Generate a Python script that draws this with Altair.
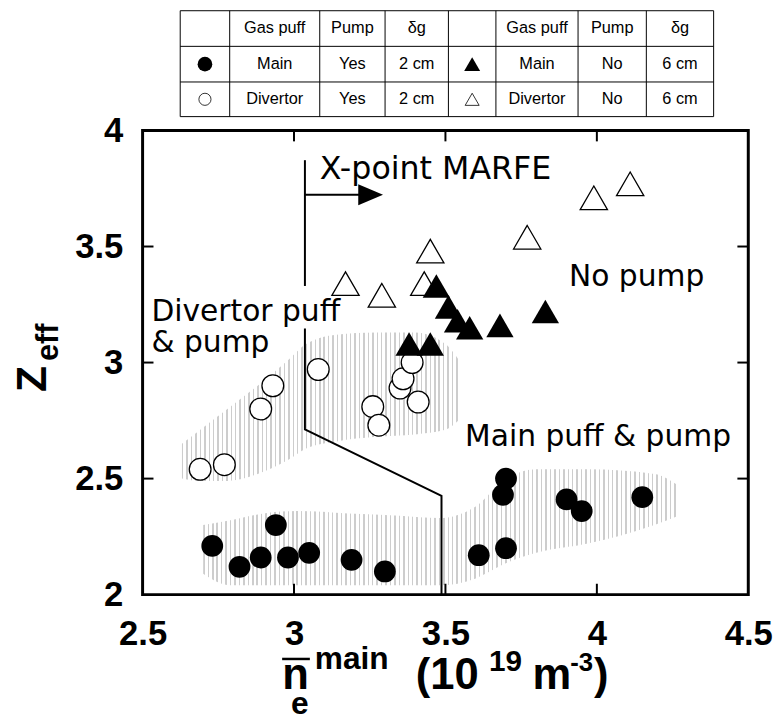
import altair as alt
import pandas as pd

# ---------------- data ----------------
# Main gas puff, pump (filled circles)
main_pump_x = [2.73, 2.82, 2.89, 2.94, 2.98, 3.05, 3.19, 3.30, 3.61, 3.70, 3.70, 3.69, 3.90, 3.95, 4.15]
main_pump_y = [2.21, 2.12, 2.16, 2.30, 2.16, 2.18, 2.15, 2.10, 2.17, 2.20, 2.50, 2.43, 2.41, 2.36, 2.42]
# Divertor gas puff, pump (open circles)
div_pump_x = [2.69, 2.77, 2.89, 2.93, 3.08, 3.26, 3.28, 3.35, 3.36, 3.39, 3.41]
div_pump_y = [2.54, 2.56, 2.80, 2.90, 2.97, 2.81, 2.73, 2.89, 2.93, 3.00, 2.83]
# Main gas puff, no pump (filled triangles)
main_nopump_x = [3.38, 3.45, 3.47, 3.51, 3.54, 3.58, 3.68, 3.83]
main_nopump_y = [3.08, 3.08, 3.33, 3.24, 3.18, 3.15, 3.16, 3.22]
# Divertor gas puff, no pump (open triangles)
div_nopump_x = [3.17, 3.29, 3.43, 3.45, 3.77, 3.99, 4.11]
div_nopump_y = [3.34, 3.29, 3.34, 3.48, 3.54, 3.71, 3.77]

# shaded regions (lower / upper edge at each x)
div_band_x = [2.63, 2.68, 2.78, 2.88, 2.98, 3.04, 3.14, 3.27, 3.40, 3.50, 3.55]
div_band_lo = [2.50, 2.49, 2.49, 2.52, 2.58, 2.63, 2.66, 2.68, 2.69, 2.71, 2.76]
div_band_hi = [2.65, 2.70, 2.80, 2.90, 3.01, 3.08, 3.12, 3.13, 3.13, 3.08, 3.00]
main_band_x = [2.70, 2.79, 2.90, 3.01, 3.18, 3.35, 3.48, 3.60, 3.69, 3.80, 3.97, 4.19, 4.27]
main_band_lo = [2.09, 2.04, 2.04, 2.04, 2.04, 2.04, 2.04, 2.07, 2.13, 2.18, 2.22, 2.30, 2.34]
main_band_hi = [2.30, 2.32, 2.35, 2.36, 2.35, 2.34, 2.33, 2.38, 2.49, 2.54, 2.54, 2.52, 2.47]

# X-point MARFE boundary line
marfe_x = [3.036, 3.036, 3.036, 3.036, 3.487, 3.487]
marfe_y = [3.872, 3.330, 3.147, 2.712, 2.426, 2.0]
marfe_seg = [0, 0, 1, 1, 1, 1]
arrow_x = [3.036, 3.225]
arrow_y = [3.723, 3.723]
arrow_head_x = [3.253]
arrow_head_y = [3.723]

x_labels = [2.5, 3, 3.5, 4, 4.5]
y_labels = [2, 2.5, 3, 3.5, 4]
x_inner_ticks = [3, 3.5, 4]
y_inner_ticks = [2.5, 3, 3.5]

table_header = ["", "Gas puff", "Pump", "δg", "", "Gas puff", "Pump", "δg"]
table_row1 = ["", "Main", "Yes", "2 cm", "", "Main", "No", "6 cm"]
table_row2 = ["", "Divertor", "Yes", "2 cm", "", "Divertor", "No", "6 cm"]

# ---------------- layout ----------------
W, H = 612, 469
FONT = "Liberation Sans"
ANN = "DejaVu Sans"
xs = alt.Scale(domain=[2.5, 4.5], nice=False, zero=False)
ys = alt.Scale(domain=[2, 4], nice=False, zero=False)

xaxis = alt.Axis(values=x_labels, format="~g", title=None, domain=False, ticks=False,
                 tickSize=0, grid=False, labelFont=FONT, labelFontWeight="bold",
                 labelFontSize=35, labelColor="black", labelPadding=22,
                 labelFlush=False, labelOverlap=False)
yaxis = alt.Axis(values=y_labels, format="~g", title=None, domain=False, ticks=False,
                 tickSize=0, grid=False, labelFont=FONT, labelFontWeight="bold",
                 labelFontSize=35, labelColor="black", labelPadding=20,
                 labelOverlap=False)


def XE(f="x"):
    return alt.X(f"{f}:Q", scale=xs, axis=xaxis)


def YE(f="y"):
    return alt.Y(f"{f}:Q", scale=ys, axis=yaxis)


def pts(xv, yv):
    return pd.DataFrame({"x": xv, "y": yv})


dummy = pd.DataFrame({"d": [0]})


def ptext(text, px, py, size, weight="bold", font=FONT, align="left",
          baseline="alphabetic", angle=0):
    return alt.Chart(dummy).mark_text(
        text=text, fontSize=size, fontWeight=weight, font=font, align=align,
        baseline=baseline, angle=angle, color="black"
    ).encode(x=alt.value(px), y=alt.value(py))


def prule(x1, x2, y1, y2, w=1):
    return alt.Chart(dummy).mark_rule(color="black", strokeWidth=w).encode(
        x=alt.value(x1), x2=alt.value(x2), y=alt.value(y1), y2=alt.value(y2))


def dtext(text, dx, dy, size=30):
    return alt.Chart(pd.DataFrame({"x": [dx], "y": [dy]})).mark_text(
        text=text, fontSize=size, font=ANN, align="left", baseline="alphabetic",
        color="black"
    ).encode(x=XE(), y=YE())


def stripes(width_px, period=4.5, duty=0.33, ink="#cdcdcd", paper="#ffffff"):
    # vertical stipple-like stripes as a horizontal hard-stop gradient
    n = max(1, int(round(width_px / period)))
    stops = []
    for i in range(n):
        a = i / n
        b = (i + duty) / n
        c = (i + 1) / n
        stops += [alt.GradientStop(color=ink, offset=a),
                  alt.GradientStop(color=ink, offset=b),
                  alt.GradientStop(color=paper, offset=b),
                  alt.GradientStop(color=paper, offset=c)]
    return alt.Gradient(gradient="linear", stops=stops, x1=0, x2=1, y1=0, y2=0)


layers = []

# shaded regions
for bx, lo, hi in [(div_band_x, div_band_lo, div_band_hi),
                   (main_band_x, main_band_lo, main_band_hi)]:
    df = pd.DataFrame({"x": bx, "lo": lo, "hi": hi})
    wpx = (max(bx) - min(bx)) / 2.0 * W
    layers.append(alt.Chart(df).mark_area(fill=stripes(wpx), opacity=1,
                                          interpolate="monotone")
                  .encode(x=XE(), y=YE("lo"), y2="hi:Q"))

# MARFE line + arrow
mdf = pd.DataFrame({"x": marfe_x, "y": marfe_y, "seg": marfe_seg,
                    "o": list(range(len(marfe_x)))})
layers.append(alt.Chart(mdf).mark_line(color="black", strokeWidth=2)
              .encode(x=XE(), y=YE(), detail="seg:N", order="o:Q"))
layers.append(alt.Chart(pts(arrow_x, arrow_y)).mark_line(color="black", strokeWidth=2)
              .encode(x=XE(), y=YE()))
layers.append(alt.Chart(pts(arrow_head_x, arrow_head_y))
              .mark_point(shape="M-1,-0.85L1,0L-1,0.85Z", size=625,
                          filled=True, color="black", opacity=1)
              .encode(x=XE(), y=YE()))

# inward ticks on all four sides
tx = pd.DataFrame({"v": x_inner_ticks})
ty = pd.DataFrame({"v": y_inner_ticks})
layers.append(alt.Chart(tx).mark_rule(color="black", strokeWidth=2)
              .encode(x=XE("v"), y=alt.value(H), y2=alt.value(H - 11)))
layers.append(alt.Chart(tx).mark_rule(color="black", strokeWidth=2)
              .encode(x=XE("v"), y=alt.value(0), y2=alt.value(11)))
layers.append(alt.Chart(ty).mark_rule(color="black", strokeWidth=2)
              .encode(y=YE("v"), x=alt.value(0), x2=alt.value(11)))
layers.append(alt.Chart(ty).mark_rule(color="black", strokeWidth=2)
              .encode(y=YE("v"), x=alt.value(W), x2=alt.value(W - 11)))

# annotations
layers.append(dtext("X-point MARFE", 3.085, 3.791, 32))
layers.append(dtext("No pump", 3.908, 3.330))
layers.append(dtext("Divertor puff", 2.529, 3.181))
layers.append(dtext("& pump", 2.529, 3.045))
layers.append(dtext("Main puff  & pump", 3.565, 2.640))

# data markers
layers.append(alt.Chart(pts(div_pump_x, div_pump_y))
              .mark_point(shape="circle", size=484, fill="white", stroke="black",
                          strokeWidth=1.3, opacity=1, fillOpacity=1)
              .encode(x=XE(), y=YE()))
layers.append(alt.Chart(pts(main_pump_x, main_pump_y))
              .mark_point(shape="circle", size=484, filled=True, color="black", opacity=1)
              .encode(x=XE(), y=YE()))
layers.append(alt.Chart(pts(div_nopump_x, div_nopump_y))
              .mark_point(shape="triangle-up", size=760, fill="white", stroke="black",
                          strokeWidth=1.3, opacity=1, fillOpacity=1)
              .encode(x=XE(), y=YE()))
layers.append(alt.Chart(pts(main_nopump_x, main_nopump_y))
              .mark_point(shape="triangle-up", size=760, filled=True, color="black", opacity=1)
              .encode(x=XE(), y=YE()))

# ---------------- legend table (above the plot) ----------------
col_edges = [38, 88, 179, 245, 309, 357, 440, 509, 577]
row_edges = [-121, -85, -49, -14]
for yv in row_edges:
    layers.append(prule(col_edges[0], col_edges[-1], yv, yv))
for xv in col_edges:
    layers.append(prule(xv, xv, row_edges[0], row_edges[-1]))
for r, row in enumerate([table_header, table_row1, table_row2]):
    cy = (row_edges[r] + row_edges[r + 1]) / 2
    for c, t in enumerate(row):
        if t:
            cx = (col_edges[c] + col_edges[c + 1]) / 2
            layers.append(ptext(t, cx, cy, 16.5, weight="normal", align="center",
                                baseline="middle"))
c1 = (col_edges[0] + col_edges[1]) / 2
c5 = (col_edges[4] + col_edges[5]) / 2
r1 = (row_edges[1] + row_edges[2]) / 2
r2 = (row_edges[2] + row_edges[3]) / 2
layers.append(alt.Chart(dummy).mark_point(shape="circle", size=220, filled=True,
                                          color="black", opacity=1)
              .encode(x=alt.value(c1), y=alt.value(r1)))
layers.append(alt.Chart(dummy).mark_point(shape="circle", size=150, fill="white",
                                          stroke="black", strokeWidth=0.8, opacity=1)
              .encode(x=alt.value(c1), y=alt.value(r2)))
layers.append(alt.Chart(dummy).mark_point(shape="triangle-up", size=260, filled=True,
                                          color="black", opacity=1)
              .encode(x=alt.value(c5), y=alt.value(r1)))
layers.append(alt.Chart(dummy).mark_point(shape="triangle-up", size=200, fill="white",
                                          stroke="black", strokeWidth=0.8, opacity=1)
              .encode(x=alt.value(c5), y=alt.value(r2)))

# ---------------- axis titles ----------------
# y: Z_eff
layers.append(ptext("Z", -98, 251, 43, align="center", angle=270))
layers.append(ptext("eff", -85, 214, 31, align="center", angle=270))
# x: overline n_e ^main (10^19 m^-3)
layers.append(prule(141, 169, 534, 534, 2.5))
layers.append(ptext("n", 141, 564, 44))
layers.append(ptext("e", 150, 590, 32))
layers.append(ptext("main", 174, 544, 32))
layers.append(ptext("(10", 276, 564, 44))
layers.append(ptext("19", 350, 546, 30))
layers.append(ptext("m", 394, 564, 44))
layers.append(ptext("-3", 432, 546, 26))
layers.append(ptext(")", 456, 564, 44))

chart = alt.layer(*layers).properties(
    width=W, height=H,
    padding={"left": 136, "top": 120, "right": 27, "bottom": 131},
    autosize=alt.AutoSizeParams(type="none"),
    background="white",
).configure_view(stroke="black", strokeWidth=3)

chart.save("out.html", embed_options={"renderer": "svg", "actions": False})
